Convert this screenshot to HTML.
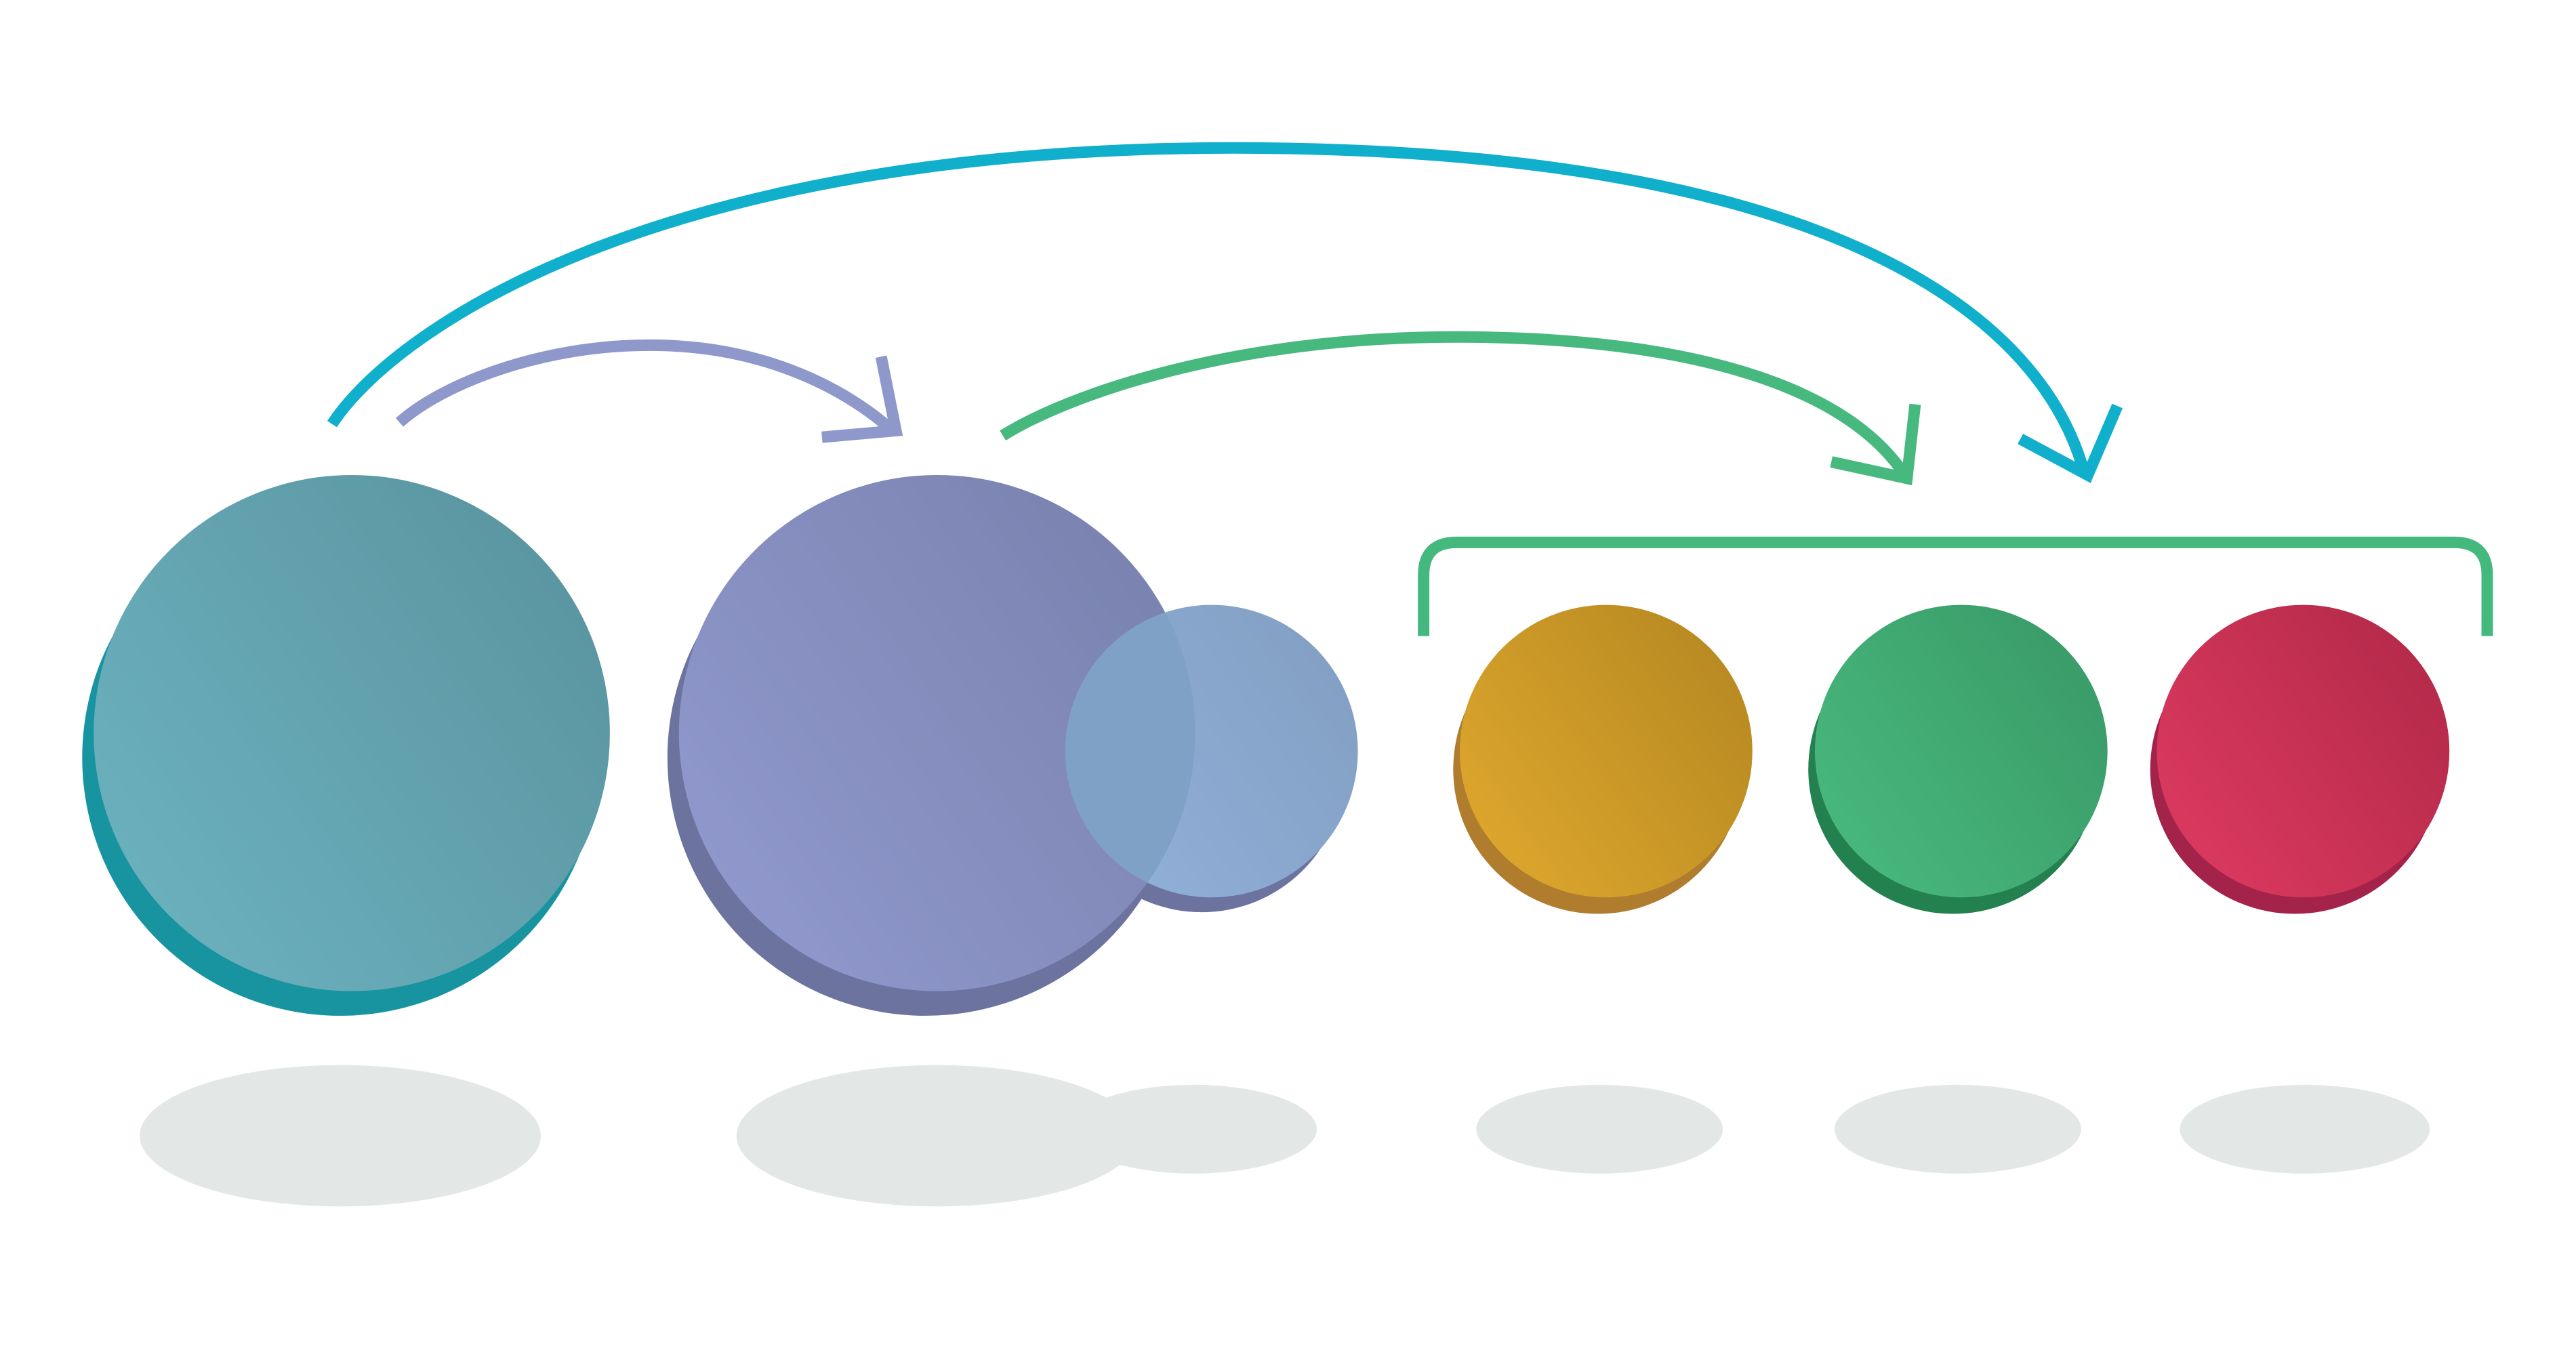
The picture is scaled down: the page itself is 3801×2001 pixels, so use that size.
<!DOCTYPE html>
<html><head><meta charset="utf-8"><style>html,body{margin:0;padding:0;background:#fff}svg{display:block}</style></head>
<body>
<svg width="3801" height="2001" viewBox="0 0 1567 825" preserveAspectRatio="none" xmlns="http://www.w3.org/2000/svg">
<defs>
<linearGradient id="gt" x1="0" y1="1" x2="1" y2="0.3"><stop offset="0" stop-color="#6eb4c2"/><stop offset="1" stop-color="#5a96a1"/></linearGradient>
<linearGradient id="gp" x1="0" y1="1" x2="1" y2="0.3"><stop offset="0" stop-color="#939bd1"/><stop offset="1" stop-color="#7a83af"/></linearGradient>
<linearGradient id="gs" x1="0" y1="1" x2="1" y2="0.3"><stop offset="0" stop-color="#93b2db"/><stop offset="1" stop-color="#83a0c4"/></linearGradient>
<linearGradient id="gy" x1="0" y1="1" x2="1" y2="0.3"><stop offset="0" stop-color="#e2aa2e"/><stop offset="1" stop-color="#b88a22"/></linearGradient>
<linearGradient id="gg" x1="0" y1="1" x2="1" y2="0.3"><stop offset="0" stop-color="#4abc80"/><stop offset="1" stop-color="#3a9c69"/></linearGradient>
<linearGradient id="gr" x1="0" y1="1" x2="1" y2="0.3"><stop offset="0" stop-color="#e03b62"/><stop offset="1" stop-color="#b52a4a"/></linearGradient>
<clipPath id="cs"><circle cx="737" cy="457" r="89"/></clipPath>
</defs>
<g fill="#e3e8e6">
<ellipse cx="207" cy="691" rx="122" ry="43"/>
<ellipse cx="570" cy="691" rx="122" ry="43"/>
<ellipse cx="726" cy="687" rx="75" ry="27"/>
<ellipse cx="973" cy="687" rx="75" ry="27"/>
<ellipse cx="1191" cy="687" rx="75" ry="27"/>
<ellipse cx="1402" cy="687" rx="76" ry="27"/>
</g>
<circle cx="207" cy="461" r="157" fill="#1794a0"/>
<circle cx="214" cy="446" r="157" fill="url(#gt)"/>
<circle cx="563" cy="461" r="157" fill="#6b739e"/>
<circle cx="731" cy="468" r="87" fill="#6b739e"/>
<circle cx="570" cy="446" r="157" fill="url(#gp)"/>
<circle cx="737" cy="457" r="89" fill="url(#gs)"/>
<circle cx="570" cy="446" r="157" fill="#7ea1c5" clip-path="url(#cs)"/>
<circle cx="972" cy="468" r="88" fill="#b07d2f"/>
<circle cx="977" cy="457" r="89" fill="url(#gy)"/>
<circle cx="1188" cy="468" r="88" fill="#23804f"/>
<circle cx="1193" cy="457" r="89" fill="url(#gg)"/>
<circle cx="1396" cy="468" r="88" fill="#a3234a"/>
<circle cx="1401" cy="457" r="89" fill="url(#gr)"/>
<g fill="none" stroke-width="7" stroke-linejoin="miter">
<path d="M866,387 V350 Q866,330 886,330 H1493 Q1513,330 1513,350 V387" stroke="#45b87e"/>
<path d="M202,258 C240,200 400,90 750,90 C1100,90 1240,185 1268,288" stroke="#10afcc"/>
<polyline points="1229,267 1270,289 1288,247" stroke="#10afcc"/>
<path d="M243,257 C270,233 330,210 395,210 C460,210 510,233 543,262" stroke="#8f98cb"/>
<polyline points="536,217 545,262 500,266" stroke="#8f98cb"/>
<path d="M610,265 C650,240 750,205 885,205 C1020,205 1120,232 1158,288" stroke="#47b97f"/>
<polyline points="1114,281 1160,291 1165,246" stroke="#47b97f"/>
</g>
</svg>
</body></html>
